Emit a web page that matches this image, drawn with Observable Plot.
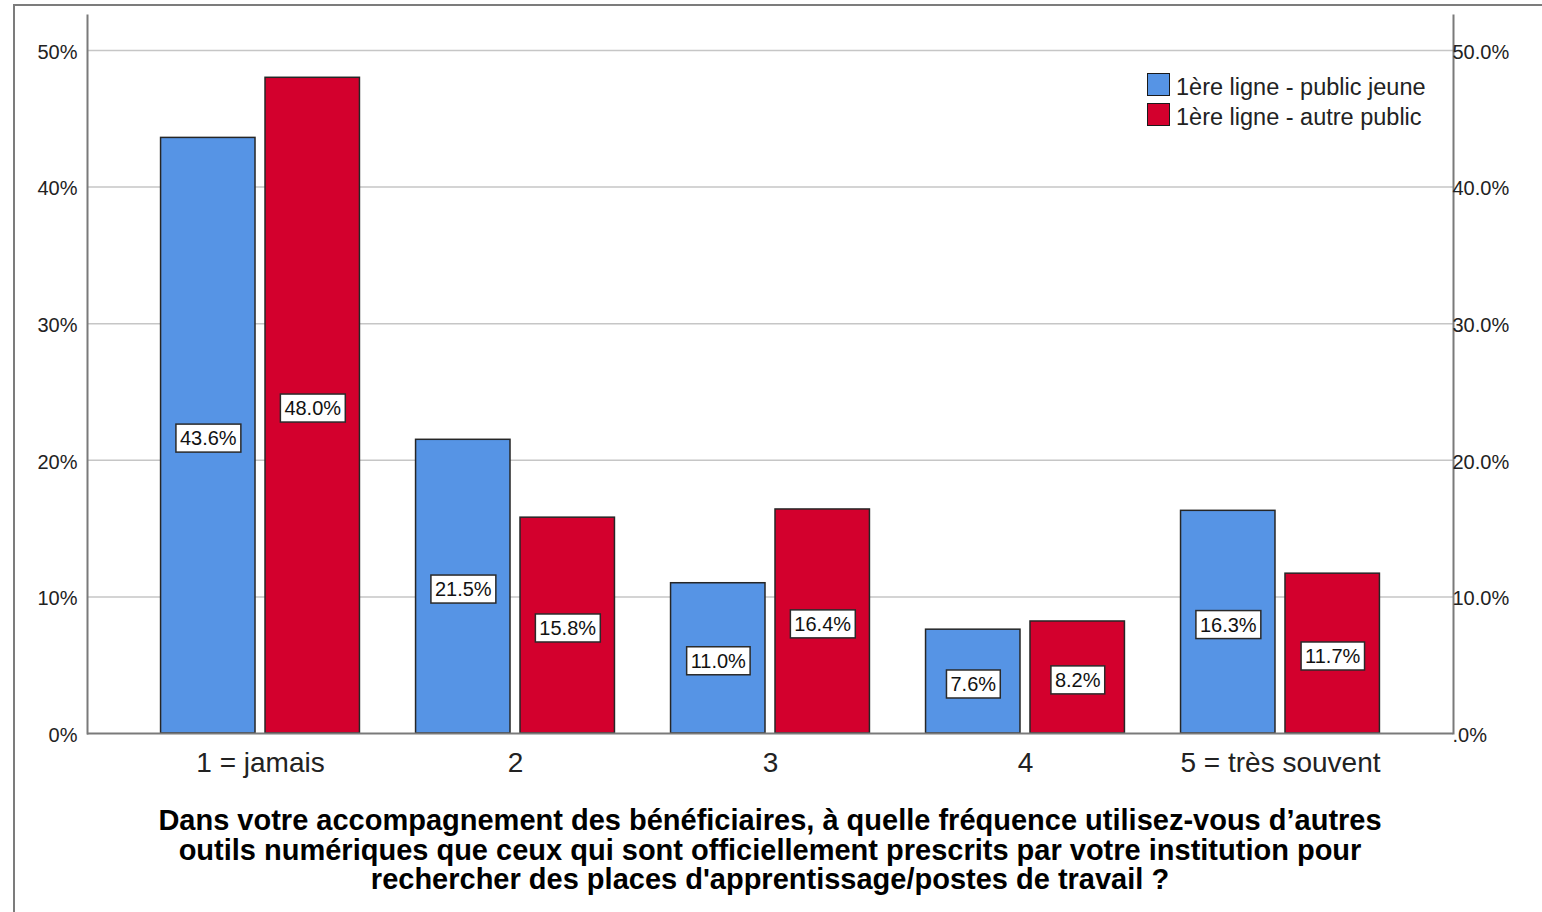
<!DOCTYPE html>
<html>
<head>
<meta charset="utf-8">
<script src="https://cdn.jsdelivr.net/npm/d3@7"></script>
<script src="https://cdn.jsdelivr.net/npm/@observablehq/plot@0.6"></script>
<style>
  html, body { margin: 0; padding: 0; background: #fff; }
  #wrap { position: relative; width: 1542px; height: 912px; overflow: hidden; font-family: "Liberation Sans", Arial, sans-serif; }
  #border { position: absolute; left: 13px; top: 4px; right: -5px; bottom: -5px; border-left: 2px solid #7c7c7c; border-top: 2px solid #7c7c7c; }
  #chart { position: absolute; left: 0; top: 0; }
  #legend { position: absolute; left: 1147px; top: 69px; font-size: 23.5px; color: #222; }
  #legend .item { display: flex; align-items: center; height: 30px; }
  #legend .sw { width: 23px; height: 23px; border: 1.5px solid #1a1a1a; margin-right: 6px; box-sizing: border-box; }
  #legend span { position: relative; top: 3px; }
  #title { position: absolute; left: 87px; width: 1366px; top: 806px; text-align: center; font-weight: bold; font-size: 29px; line-height: 29.5px; color: #000; }
</style>
</head>
<body>
<div id="wrap">
  <div id="border"></div>
  <div id="chart"></div>
  <div id="legend"></div>
  <div id="title"></div>
</div>
<script>
const categories = ["1 = jamais", "2", "3", "4", "5 = très souvent"];
const series = ["1ère ligne - public jeune", "1ère ligne - autre public"];
const publicJeune = [43.6, 21.5, 11.0, 7.6, 16.3];
const autrePublic = [48.0, 15.8, 16.4, 8.2, 11.7];
const seriesColors = ["#5694e5", "#d3002d"];
const yTicks = [0, 10, 20, 30, 40, 50];
const leftTickLabels = ["0%", "10%", "20%", "30%", "40%", "50%"];
const rightTickLabels = [".0%", "10.0%", "20.0%", "30.0%", "40.0%", "50.0%"];
const titleLines = [
  "Dans votre accompagnement des bénéficiaires, à quelle fréquence utilisez-vous d\u2019autres",
  "outils numériques que ceux qui sont officiellement prescrits par votre institution pour",
  "rechercher des places d'apprentissage/postes de travail ?"
];

const jeuneData = categories.map((c, i) => ({cat: c, serie: series[0], value: publicJeune[i]}));
const autreData = categories.map((c, i) => ({cat: c, serie: series[1], value: autrePublic[i]}));

// group of two bars: each bar is (group width - gap)/2 wide
const groupPaddingInner = 0.22, groupPaddingOuter = 0.2885;
const W = 1542, ML = 87, MR = 89;
const step = (W - ML - MR) / (categories.length - groupPaddingInner + 2 * groupPaddingOuter);
const bandW = step * (1 - groupPaddingInner);
const innerGap = 10;
const barInset = (bandW + innerGap) / 2;       // inset removing the other half of the group
const labelShift = (bandW + innerGap) / 4;     // centre of each half

const lbl = d => d.value.toFixed(1) + "%";

const chart = Plot.plot({
  width: W,
  height: 790,
  marginLeft: ML,
  marginRight: MR,
  marginTop: 15,
  marginBottom: 57,
  style: {fontFamily: "'Liberation Sans', Arial, sans-serif", background: "transparent", color: "#222"},
  x: {domain: categories, paddingInner: groupPaddingInner, paddingOuter: groupPaddingOuter, round: false, label: null},
  y: {domain: [0, 52.56], label: null},
  marks: [
    Plot.ruleY(yTicks.slice(1), {stroke: "#c6c6c6", strokeWidth: 1.5}),
    Plot.barY(jeuneData, {x: "cat", y: "value", fill: seriesColors[0], stroke: "#262626", strokeWidth: 1.5, insetRight: barInset}),
    Plot.barY(autreData, {x: "cat", y: "value", fill: seriesColors[1], stroke: "#262626", strokeWidth: 1.5, insetLeft: barInset}),
    Plot.text(jeuneData, {x: "cat", y: d => d.value / 2, dx: -labelShift, dy: 3, text: lbl, fontSize: 20, fill: "#111"}),
    Plot.text(autreData, {x: "cat", y: d => d.value / 2, dx: labelShift, dy: 3, text: lbl, fontSize: 20, fill: "#111"}),
    Plot.ruleY([0], {stroke: "#7a7a7a", strokeWidth: 2}),
    Plot.frame({anchor: "left", stroke: "#7a7a7a", strokeWidth: 2}),
    Plot.frame({anchor: "right", stroke: "#7a7a7a", strokeWidth: 2}),
    Plot.axisY({anchor: "left", ticks: yTicks, tickSize: 0, tickPadding: 10, dy: 2, fontSize: 20, tickFormat: d => leftTickLabels[yTicks.indexOf(d)], label: null}),
    Plot.axisY({anchor: "right", ticks: yTicks, tickSize: 0, tickPadding: -1, dy: 2, fontSize: 20, tickFormat: d => rightTickLabels[yTicks.indexOf(d)], label: null}),
    Plot.axisX({anchor: "bottom", tickSize: 0, tickPadding: 19, fontSize: 28, label: null})
  ]
});
document.getElementById("chart").appendChild(chart);

// white boxes behind the value labels
const svgNS = "http://www.w3.org/2000/svg";
chart.querySelectorAll('g[aria-label="text"] text').forEach(t => {
  const b = t.getBBox();
  const r = document.createElementNS(svgNS, "rect");
  r.setAttribute("x", b.x - 4);
  r.setAttribute("y", b.y - 3);
  r.setAttribute("width", b.width + 8);
  r.setAttribute("height", b.height + 6);
  r.setAttribute("fill", "#fff");
  r.setAttribute("stroke", "#2a2a2a");
  r.setAttribute("stroke-width", 1.5);
  const tr = t.getAttribute("transform");
  if (tr) r.setAttribute("transform", tr);
  t.parentNode.insertBefore(r, t);
});

// legend
const legend = document.getElementById("legend");
series.forEach((s, i) => {
  const item = document.createElement("div");
  item.className = "item";
  const sw = document.createElement("div");
  sw.className = "sw";
  sw.style.background = seriesColors[i];
  const lab = document.createElement("span");
  lab.textContent = s;
  item.appendChild(sw);
  item.appendChild(lab);
  legend.appendChild(item);
});

// title
document.getElementById("title").innerHTML = titleLines.map(l => l.replace(/&/g, "&amp;").replace(/</g, "&lt;")).join("<br>");
</script>
</body>
</html>
